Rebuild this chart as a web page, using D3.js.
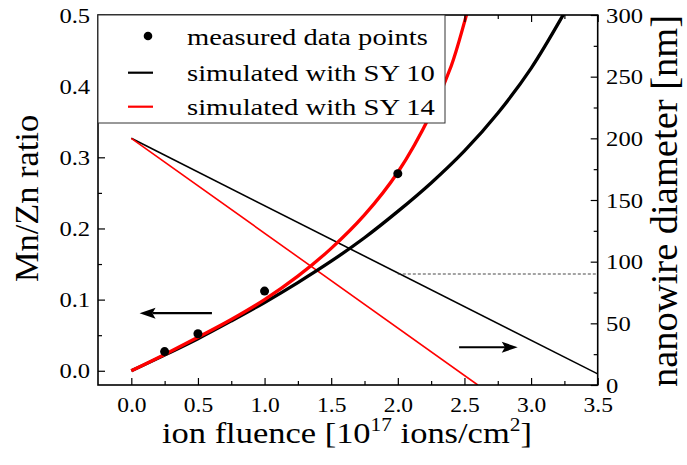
<!DOCTYPE html>
<html><head><meta charset="utf-8">
<script src="https://cdn.jsdelivr.net/npm/d3@7"></script>
<style>
body{margin:0;background:#fff}
svg{display:block}
text{font-family:"Liberation Serif","Times New Roman",serif;fill:#000}
</style>
</head><body>
<svg id="c" width="687" height="465"></svg>
<script>
// ---- data ----
const measuredFluence = [0.25, 0.5, 1.0, 2.0];
const measuredRatio   = [0.027, 0.052, 0.112, 0.277];

const sy10Fluence = [0, 0.25, 0.5, 0.75, 1.0, 1.25, 1.5, 1.75, 2.0, 2.25, 2.5, 2.75, 3.0, 3.25, 3.3];
const sy10Ratio   = [0, 0.022, 0.045, 0.070, 0.096, 0.124, 0.154, 0.187, 0.224, 0.264, 0.309, 0.362, 0.425, 0.503, 0.52];

const sy14Fluence = [0, 0.25, 0.5, 0.75, 1.0, 1.25, 1.5, 1.75, 2.0, 2.25, 2.4, 2.5, 2.55];
const sy14Ratio   = [0, 0.023, 0.047, 0.072, 0.100, 0.133, 0.172, 0.219, 0.279, 0.362, 0.428, 0.490, 0.525];

const diamSY10Fluence = [0, 3.5];
const diamSY10 = [200, 9];
const diamSY14Fluence = [0, 2.6];
const diamSY14 = [200, 0];
const thresholdFluence = [2.0, 3.5];
const thresholdDiam = [90, 90];

const xMajor = [0, 0.5, 1.0, 1.5, 2.0, 2.5, 3.0, 3.5];
const xMinor = [0.25, 0.75, 1.25, 1.75, 2.25, 2.75, 3.25];
const yLMajor = [0, 0.1, 0.2, 0.3, 0.4, 0.5];
const yLMinor = [0.05, 0.15, 0.25, 0.35, 0.45];
const yRMajor = [0, 50, 100, 150, 200, 250, 300];
const yRMinor = [25, 75, 125, 175, 225, 275];

const legendLabels = ["measured data points", "simulated with SY 10", "simulated with SY 14"];
const colors = {black: "#000", red: "#ff0000"};

// ---- layout ----
const L = 98, R = 597.7, T = 15, B = 385;
const svg = d3.select("#c");
const x = d3.scaleLinear([-0.25, 3.5], [L, R]);
const yL = d3.scaleLinear([-0.02, 0.5], [B, T]);
const yR = d3.scaleLinear([0, 300], [B, T]);
const SX = 1.12;

svg.append("defs").append("clipPath").attr("id", "clip")
  .append("rect").attr("x", L).attr("y", T).attr("width", R - L).attr("height", B - T);

const plot = svg.append("g").attr("clip-path", "url(#clip)");

// diameter lines (right axis)
const lineR = d3.line().x(d => x(d[0])).y(d => yR(d[1]));
plot.append("path").datum(d3.zip(diamSY10Fluence, diamSY10))
  .attr("d", lineR).attr("fill", "none").attr("stroke", colors.black).attr("stroke-width", 1.6);
plot.append("path").datum(d3.zip(diamSY14Fluence, diamSY14))
  .attr("d", lineR).attr("fill", "none").attr("stroke", colors.red).attr("stroke-width", 1.6);
plot.append("path").datum(d3.zip(thresholdFluence, thresholdDiam))
  .attr("d", lineR).attr("fill", "none").attr("stroke", "#333").attr("stroke-width", 0.9)
  .attr("stroke-dasharray", "3,2");

// ratio curves
const lineL = d3.line().x(d => x(d[0])).y(d => yL(d[1])).curve(d3.curveCatmullRom.alpha(0.5));
plot.append("path").datum(d3.zip(sy10Fluence, sy10Ratio))
  .attr("d", lineL).attr("fill", "none").attr("stroke", colors.black).attr("stroke-width", 3.3);
plot.append("path").datum(d3.zip(sy14Fluence, sy14Ratio))
  .attr("d", lineL).attr("fill", "none").attr("stroke", colors.red).attr("stroke-width", 3.3);

// measured points
plot.selectAll("circle.m").data(d3.zip(measuredFluence, measuredRatio)).join("circle")
  .attr("cx", d => x(d[0])).attr("cy", d => yL(d[1])).attr("r", 4.5).attr("fill", "#000");

// arrows
function arrow(x1, y1, x2, y2) {
  const dir = Math.sign(x2 - x1);
  const hl = 16, hw = 5.5;
  svg.append("line").attr("x1", x1).attr("y1", y1).attr("x2", x2 - dir * hl * 0.8).attr("y2", y2)
    .attr("stroke", "#000").attr("stroke-width", 2.2);
  svg.append("path")
    .attr("d", `M${x2},${y2} L${x2 - dir * hl},${y2 - hw} L${x2 - dir * hl * 0.8},${y2} L${x2 - dir * hl},${y2 + hw} Z`)
    .attr("fill", "#000");
}
arrow(x(0.605), yL(0.081), x(0.062), yL(0.081));
arrow(x(2.46), yR(30.6), x(2.9), yR(30.6));

// ---- axes ----
function styleAxis(g) {
  g.select(".domain").remove();
  g.selectAll(".tick line").attr("stroke", "#000").attr("stroke-width", 1.2);
}
const fmt1 = d3.format(".1f");
// bottom
svg.append("g").attr("transform", `translate(0,${B})`)
  .call(d3.axisBottom(x).tickValues(xMajor).tickSize(-7).tickPadding(12.5).tickFormat(fmt1))
  .call(styleAxis)
  .call(g => g.selectAll("text").attr("font-size", 21).attr("font-family", "Liberation Serif")
    .attr("transform", `scale(${SX},1)`));
svg.append("g").attr("transform", `translate(0,${B})`)
  .call(d3.axisBottom(x).tickValues(xMinor).tickSize(-4).tickFormat(""))
  .call(styleAxis);
// top mirror
svg.append("g").attr("transform", `translate(0,${T})`)
  .call(d3.axisTop(x).tickValues(xMajor).tickSize(-7).tickFormat(""))
  .call(styleAxis);
svg.append("g").attr("transform", `translate(0,${T})`)
  .call(d3.axisTop(x).tickValues(xMinor).tickSize(-4).tickFormat(""))
  .call(styleAxis);
// left
svg.append("g").attr("transform", `translate(${L},0)`)
  .call(d3.axisLeft(yL).tickValues(yLMajor).tickSize(-7).tickPadding(7).tickFormat(fmt1))
  .call(styleAxis)
  .call(g => g.selectAll("text").attr("font-size", 22).attr("font-family", "Liberation Serif")
    .attr("transform", `scale(${SX},1)`));
svg.append("g").attr("transform", `translate(${L},0)`)
  .call(d3.axisLeft(yL).tickValues(yLMinor).tickSize(-4).tickFormat(""))
  .call(styleAxis);
// right
svg.append("g").attr("transform", `translate(${R},0)`)
  .call(d3.axisRight(yR).tickValues(yRMajor).tickSize(-7).tickPadding(7.5).tickFormat(d3.format("d")))
  .call(styleAxis)
  .call(g => g.selectAll("text").attr("font-size", 22).attr("font-family", "Liberation Serif")
    .attr("transform", `scale(${SX},1)`));
svg.append("g").attr("transform", `translate(${R},0)`)
  .call(d3.axisRight(yR).tickValues(yRMinor).tickSize(-4).tickFormat(""))
  .call(styleAxis);

// frame
svg.append("rect").attr("x", L).attr("y", T).attr("width", R - L).attr("height", B - T)
  .attr("fill", "none").attr("stroke", "#000").attr("stroke-width", 1.6);

// ---- legend ----
const leg = svg.append("g");
leg.append("rect").attr("x", L).attr("y", T).attr("width", 347).attr("height", 108)
  .attr("fill", "#fff").attr("stroke", "#333").attr("stroke-width", 1);
leg.append("circle").attr("cx", 148).attr("cy", 36).attr("r", 4.3).attr("fill", "#000");
leg.append("line").attr("x1", 128).attr("x2", 153).attr("y1", 72.7).attr("y2", 72.7)
  .attr("stroke", colors.black).attr("stroke-width", 2.2);
leg.append("line").attr("x1", 128).attr("x2", 153).attr("y1", 106.7).attr("y2", 106.7)
  .attr("stroke", colors.red).attr("stroke-width", 2.2);

function fitText(sel, tx, ty, width) {
  const w = sel.node().getComputedTextLength();
  sel.attr("transform", `translate(${tx},${ty}) scale(${width / w},1)`);
}
const legBase = [45, 80.5, 114.5];
const legW = [241, 248, 248];
legendLabels.forEach((t, i) => {
  const tt = leg.append("text").attr("font-size", 24).text(t);
  fitText(tt, 187, legBase[i], legW[i]);
});

// ---- axis titles ----
const xt = svg.append("text").attr("font-size", 29);
xt.append("tspan").text("ion fluence [10");
xt.append("tspan").attr("font-size", 18).attr("dy", -12).text("17");
xt.append("tspan").attr("dy", 12).text(" ions/cm");
xt.append("tspan").attr("font-size", 18).attr("dy", -12).text("2");
xt.append("tspan").attr("dy", 12).text("]");
{
  const w = xt.node().getBBox().width;
  xt.attr("transform", `translate(162,443) scale(${370 / w},1)`);
}

svg.append("text").attr("font-size", 34.4).attr("text-anchor", "middle")
  .attr("transform", "translate(38,198.5) rotate(-90)").text("Mn/Zn ratio");
svg.append("text").attr("font-size", 38.5).attr("text-anchor", "middle")
  .attr("transform", "translate(677,201) rotate(-90)").text("nanowire diameter [nm]");
</script>
</body></html>
